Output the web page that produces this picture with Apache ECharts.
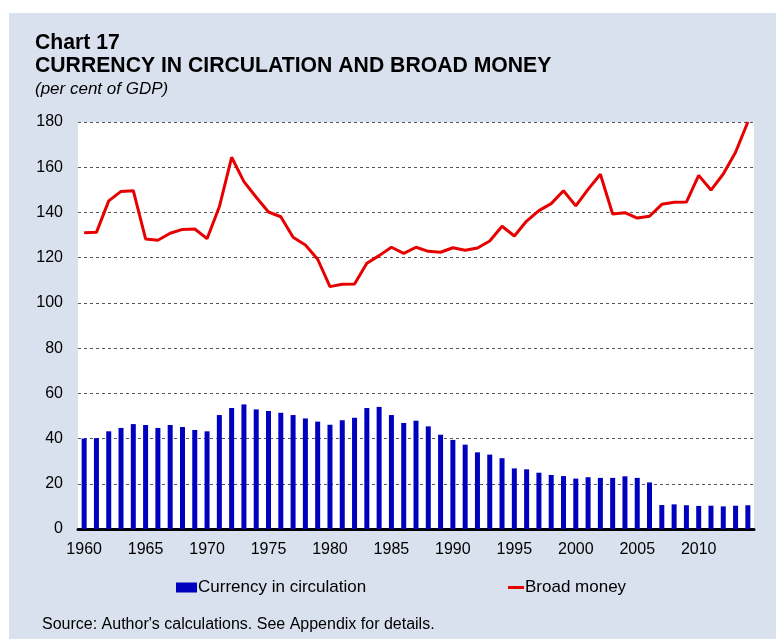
<!DOCTYPE html>
<html>
<head>
<meta charset="utf-8">
<script src="https://cdn.jsdelivr.net/npm/echarts@6/dist/echarts.min.js"></script>
<style>
  html, body { margin: 0; padding: 0; background: #ffffff; }
  #chart { position: absolute; left: 9px; top: 13px; width: 767px; height: 626px; }
</style>
</head>
<body>
<div id="chart"></div>
<script>
const years = ['1960','1961','1962','1963','1964','1965','1966','1967','1968','1969',
  '1970','1971','1972','1973','1974','1975','1976','1977','1978','1979',
  '1980','1981','1982','1983','1984','1985','1986','1987','1988','1989',
  '1990','1991','1992','1993','1994','1995','1996','1997','1998','1999',
  '2000','2001','2002','2003','2004','2005','2006','2007','2008','2009',
  '2010','2011','2012','2013','2014'];

const currencyInCirculation = [
  40.0, 40.2, 43.2, 44.7, 46.4, 46.0, 44.7, 46.0, 45.1, 43.8,
  43.2, 50.4, 53.5, 55.1, 52.9, 52.2, 51.4, 50.4, 48.9, 47.5,
  46.1, 48.1, 49.2, 53.5, 54.0, 50.4, 46.9, 47.9, 45.4, 41.7,
  39.4, 37.3, 33.9, 32.9, 31.3, 26.8, 26.4, 24.9, 23.9, 23.4,
  22.3, 22.9, 22.6, 22.6, 23.3, 22.6, 20.6, 10.6, 10.9, 10.5,
  10.2, 10.3, 10.0, 10.3, 10.5];

const broadMoney = [
  131.0, 131.2, 145.1, 149.3, 149.6, 128.3, 127.7, 130.8, 132.5, 132.7,
  128.4, 142.5, 164.4, 153.6, 146.7, 140.2, 138.1, 129.0, 125.6, 119.3,
  107.2, 108.2, 108.4, 117.5, 120.9, 124.6, 121.9, 124.6, 122.8, 122.4,
  124.4, 123.3, 124.3, 127.4, 133.9, 129.6, 136.2, 140.8, 143.9, 149.6,
  142.9, 150.2, 156.9, 139.3, 139.9, 137.5, 138.3, 143.6, 144.5, 144.6,
  156.4, 149.9, 157.0, 166.6, 180.0];

const yTicks = { min: 0, max: 180, interval: 20 };

const FONT = 'Arial, "Liberation Sans", Helvetica, sans-serif';

const chart = echarts.init(document.getElementById('chart'), null, { renderer: 'canvas' });
chart.setOption({
  animation: false,
  backgroundColor: '#d9e1ee',
  textStyle: { fontFamily: FONT },
  title: [
    { text: 'Chart 17', left: 26, top: 20, padding: 0,
      textStyle: { fontFamily: FONT, fontSize: 21.2, fontWeight: 'bold', color: '#000' } },
    { text: 'CURRENCY IN CIRCULATION AND BROAD MONEY', left: 26, top: 43, padding: 0,
      textStyle: { fontFamily: FONT, fontSize: 21.2, fontWeight: 'bold', color: '#000' } },
    { text: '(per cent of GDP)', left: 26, top: 68, padding: 0,
      textStyle: { fontFamily: FONT, fontSize: 17, fontStyle: 'italic', fontWeight: 'normal', color: '#000' } },
    { text: "Source: Author's calculations. See Appendix for details.", left: 33, top: 604, padding: 0,
      textStyle: { fontFamily: FONT, fontSize: 16, fontWeight: 'normal', color: '#000' } }
  ],
  legend: [
    { data: ['Currency in circulation'], left: 167, top: 566, padding: 0,
      icon: 'rect', itemWidth: 21, itemHeight: 10,
      textStyle: { fontFamily: FONT, fontSize: 17, color: '#000', padding: [0, 0, 0, -4] } },
    { data: ['Broad money'], left: 499, top: 566, padding: 0,
      icon: 'rect', itemWidth: 16, itemHeight: 3,
      textStyle: { fontFamily: FONT, fontSize: 17, color: '#000', padding: [0, 0, 0, -4] } }
  ],
  grid: {
    left: 69, right: 22, top: 109, bottom: 110,
    show: true, backgroundColor: '#ffffff', borderWidth: 0
  },
  xAxis: {
    type: 'category',
    data: years,
    boundaryGap: true,
    axisTick: { show: false },
    axisLine: { show: true, lineStyle: { color: '#000', width: 3 } },
    axisLabel: { interval: 4, fontSize: 16, color: '#000', margin: 13, fontFamily: FONT },
    splitLine: { show: false }
  },
  yAxis: {
    type: 'value',
    min: yTicks.min, max: yTicks.max, interval: yTicks.interval,
    axisLine: { show: false },
    axisTick: { show: false },
    axisLabel: { fontSize: 16, color: '#000', margin: 15, fontFamily: FONT },
    splitLine: { show: true, lineStyle: { color: '#555', width: 1, type: [3, 3] } }
  },
  series: [
    {
      name: 'Currency in circulation',
      type: 'bar',
      data: currencyInCirculation,
      barWidth: 5,
      itemStyle: { color: '#0000bf' }
    },
    {
      name: 'Broad money',
      type: 'line',
      data: broadMoney,
      symbol: 'none',
      lineStyle: { color: '#e60000', width: 3 },
      itemStyle: { color: '#e60000' },
      z: 3
    }
  ]
});
</script>
</body>
</html>
